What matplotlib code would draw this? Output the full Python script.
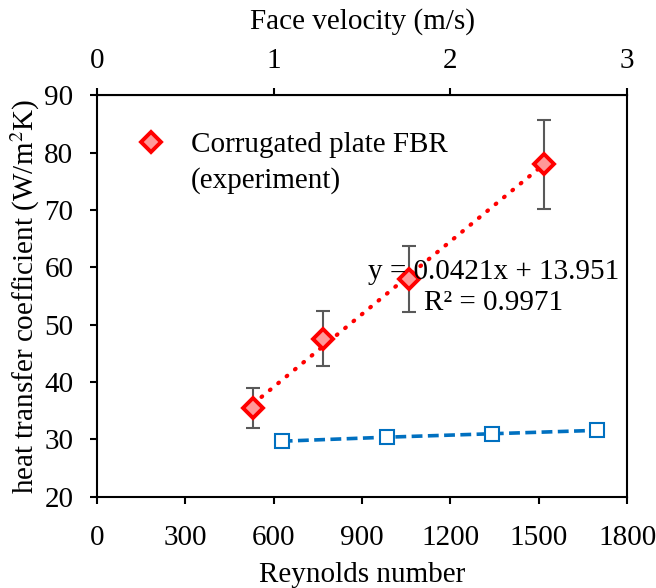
import matplotlib.pyplot as plt
from matplotlib.lines import Line2D
import numpy as np

plt.rcParams['font.family'] = ['Liberation Serif', 'DejaVu Serif']
plt.rcParams['mathtext.fontset'] = 'stix'
plt.rcParams['font.size'] = 21

# corrugated plate (experiment)
re_exp = [530, 768, 1060, 1518]
h_exp = [35.5, 47.6, 58.0, 78.0]
h_err = [3.5, 4.75, 5.75, 7.75]

# second series (blue)
re_flat = [627, 983, 1341, 1699]
h_flat = [29.7, 30.4, 31.0, 31.6]

fig = plt.figure(figsize=(6.56, 5.88), dpi=100)
ax = fig.add_axes([0.148, 0.155, 0.808, 0.683])

ax.errorbar(re_exp, h_exp, yerr=h_err, fmt='none', ecolor='#595959',
            elinewidth=1.5, capsize=5, capthick=1.5, zorder=2)

# linear trend line over the data range
k, b = np.polyfit(re_exp, h_exp, 1)
xs = np.array([min(re_exp), max(re_exp)])
ax.plot(xs, k * xs + b, color='red', ls=(0, (0.2, 2.4)), lw=3,
        dash_capstyle='round', zorder=3)

exp_line, = ax.plot(re_exp, h_exp, ls='none', marker='D', ms=10, mfc='#ff9999',
                    mec='red', mew=2.8, zorder=4)

ax.plot(re_flat, h_flat, color='#0070c0', ls=(0, (3, 1.5)), lw=2.6,
        marker='s', ms=10.5, mfc='white', mec='#0070c0', mew=1.5, zorder=4)

ax.text(1345, 56.5, 'y = 0.0421x + 13.951\nR² = 0.9971', ha='center',
        va='center', linespacing=1.25, zorder=5)

ax.set_xlim(0, 1800)
ax.set_ylim(20, 90)
ax.set_xticks(range(0, 1801, 300))
ax.set_yticks(range(20, 91, 10))
ax.set_xlabel('Reynolds number', labelpad=8)
ax.set_ylabel('heat transfer coefficient (W/m$^2$K)', labelpad=2)

for s in ax.spines.values():
    s.set_linewidth(1.5)
ax.tick_params(direction='out', length=5, width=1.5, pad=12, right=False, top=False)
ax.tick_params(axis='x', pad=15)

sec = ax.secondary_xaxis('top', functions=(lambda r: r / 600, lambda v: v * 600))
sec.set_xticks([0, 1, 2, 3])
sec.set_xlabel('Face velocity (m/s)', labelpad=14)
sec.tick_params(direction='out', length=5, width=1.5, pad=10)

blank = Line2D([], [], ls='none')
ax.legend([exp_line, blank], ['Corrugated plate FBR', '(experiment)'],
          loc='upper left', frameon=False, handlelength=1.0,
          handletextpad=0.85, labelspacing=0.3, borderpad=0, borderaxespad=0,
          bbox_to_anchor=(0.075, 0.91))

fig.savefig('out.png', dpi=100)
